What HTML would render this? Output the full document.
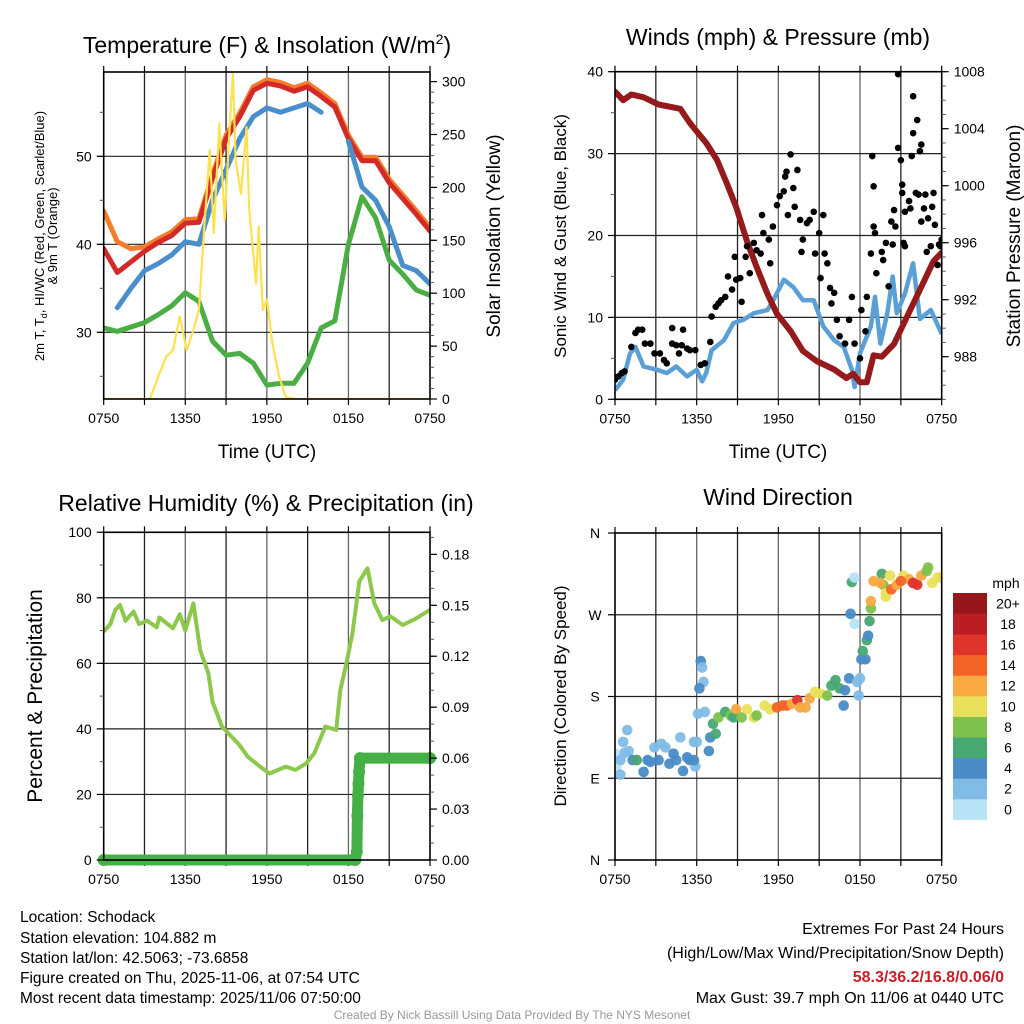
<!DOCTYPE html>
<html><head><meta charset="utf-8"><title>Mesonet Meteogram</title>
<style>
html,body{margin:0;padding:0;background:#fff;}
svg{display:block;font-family:"Liberation Sans",Arial,sans-serif;}
</style></head>
<body>
<svg id="chart" width="1024" height="1024" viewBox="0 0 1024 1024" xmlns="http://www.w3.org/2000/svg">
<rect x="0" y="0" width="1024" height="1024" fill="#fff"/>
<!-- Titles -->
<text x="267" y="53" font-size="23" text-anchor="middle">Temperature (F) &amp; Insolation (W/m<tspan font-size="14" dy="-9">2</tspan><tspan dy="9">)</tspan></text>
<text x="778" y="45" font-size="23" text-anchor="middle">Winds (mph) &amp; Pressure (mb)</text>
<text x="266" y="511" font-size="23" text-anchor="middle">Relative Humidity (%) &amp; Precipitation (in)</text>
<text x="778" y="505" font-size="23" text-anchor="middle">Wind Direction</text>
<!-- axis titles -->
<text x="267" y="458" font-size="19" text-anchor="middle">Time (UTC)</text>
<text x="778" y="458" font-size="19" text-anchor="middle">Time (UTC)</text>
<text transform="translate(44,236) rotate(-90)" font-size="13" text-anchor="middle">2m T, T<tspan font-size="9" dy="3">d</tspan><tspan dy="-3">, HI/WC (Red, Green, Scarlet/Blue)</tspan></text>
<text transform="translate(57,236) rotate(-90)" font-size="13" text-anchor="middle">&amp; 9m T (Orange)</text>
<text transform="translate(500,236) rotate(-90)" font-size="19" text-anchor="middle">Solar Insolation (Yellow)</text>
<text transform="translate(566,236) rotate(-90)" font-size="17" text-anchor="middle">Sonic Wind &amp; Gust (Blue, Black)</text>
<text transform="translate(1020,236) rotate(-90)" font-size="19" text-anchor="middle">Station Pressure (Maroon)</text>
<text transform="translate(42,696) rotate(-90)" font-size="21" text-anchor="middle">Percent &amp; Precipitation</text>
<text transform="translate(566,696) rotate(-90)" font-size="17" text-anchor="middle">Direction (Colored By Speed)</text>
<!-- footer -->
<g font-size="15.5">
<text x="20" y="922">Location: Schodack</text>
<text x="20" y="943">Station elevation: 104.882 m</text>
<text x="20" y="963">Station lat/lon: 42.5063; -73.6858</text>
<text x="20" y="983">Figure created on Thu, 2025-11-06, at 07:54 UTC</text>
<text x="20" y="1003">Most recent data timestamp: 2025/11/06 07:50:00</text>
</g>
<g font-size="16" text-anchor="end">
<text x="1004" y="934">Extremes For Past 24 Hours</text>
<text x="1004" y="958">(High/Low/Max Wind/Precipitation/Snow Depth)</text>
<text x="1004" y="982" fill="#c8202a" font-weight="bold">58.3/36.2/16.8/0.06/0</text>
<text x="1004" y="1003">Max Gust: 39.7 mph On 11/06 at 0440 UTC</text>
</g>
<text x="512" y="1019" font-size="12" fill="#999" text-anchor="middle">Created By Nick Bassill Using Data Provided By The NYS Mesonet</text>
</svg>
<script>
// ---------- DATA ----------
const xTickLabels = ["0750","1350","1950","0150","0750"];
const xTickHours = [0,6,12,18,24];
// Panel 1: temperatures (hourly, hours since 0750 UTC)
const tempHours = [0,1,2,3,4,5,6,7,8,9,10,11,12,13,14,15,16,17,18,19,20,21,22,23,24];
const temp2m = [39.5,36.8,38,39.2,40.2,41,42.4,42.5,47.5,52,54.5,57.5,58.3,58,57.4,57.9,56.8,55.6,52,49.5,49.5,47,45.2,43.4,41.5];
const temp9m = [43.8,40.3,39.5,39.7,40.6,41.4,42.8,42.9,47.9,52.4,54.9,57.9,58.7,58.4,57.8,58.3,57.2,56,52.4,49.9,49.9,47.4,45.6,43.8,41.9];
const heatIndexWC = [null,32.8,35,37,37.8,38.8,40.3,40,45,48.5,52,54.5,55.5,55,55.5,56,55,null,51.7,46.5,45,42,37.6,37,35.5];
const dewPoint = [30.5,30.1,30.6,31.1,32,33,34.5,33.5,29,27.4,27.6,26.5,24,24.2,24.2,26.5,30.5,31.3,40,45.4,43,38.2,36.6,34.8,34.2];
const solarHours = [0,3.4,4.1,4.6,5.1,5.6,6.1,6.6,7.0,7.4,7.8,8.1,8.5,8.9,9.2,9.5,9.7,10.1,10.5,10.7,11.2,11.4,11.7,12.0,12.4,12.9,13.4,14,24];
const solarValues = [0,0,24,40,46,78,46,65,84,163,235,157,260,169,242,308,226,194,257,179,109,163,84,94,53,21,2,0,0];
const tempTicks = [30,40,50];
const solarTicks = [0,50,100,150,200,250,300];
// Panel 2: wind & pressure
const pressHours = [0,0.6,1.2,2.1,3.2,4.8,5.5,6.1,6.7,7.5,8.2,8.9,9.7,10.4,11.2,11.9,12.9,13.8,14.8,16.1,17.0,17.5,18,18.5,19,19.6,20.5,21.2,21.9,22.7,23.4,24];
const pressValues = [1006.6,1006,1006.4,1006.2,1005.7,1005.4,1004.4,1003.7,1003,1001.8,1000.2,998.5,996.1,994.3,992.4,991,989.8,988.4,987.7,987.1,986.5,986.8,986.2,986.2,988.1,988.0,988.9,990.3,991.7,993.3,994.7,995.3];
const windHours = [0,0.6,1.1,1.5,2.1,3.1,3.8,4.5,5.3,6,6.4,6.7,7.1,8,8.7,9.4,10.2,11.2,11.6,12.4,13.1,13.8,14.6,15.3,16.1,16.8,17.4,17.6,18,18.8,19.1,19.5,20,20.4,20.7,21.3,21.9,22.4,23.2,24];
const windValues = [1.1,2.4,5.6,6.4,4,3.6,3.2,4,2.8,3.6,2.2,3.2,6,7.2,9.3,9.7,10.5,10.9,12,14.6,13.7,12.1,12.1,8.9,7.2,6.4,3.6,1.5,5.6,8.9,12.5,6.8,10.5,15,10.5,12.9,16.6,9.8,10.9,8];
const gustHours = [0,0.25,0.5,0.7,1.2,1.5,1.7,2.0,2.2,2.6,2.9,3.3,3.6,3.8,4.2,4.2,4.5,4.7,4.9,5.0,5.3,5.5,5.9,6.3,6.6,7.0,7.1,7.4,7.6,7.8,8.1,8.3,8.6,8.8,8.9,9.2,9.3,9.6,9.7,9.9,10.2,10.4,10.7,10.9,10.8,11.3,11.4,11.6,11.9,12.1,12.4,12.5,12.6,12.7,12.9,13.1,13.2,13.4,13.6,13.7,13.8,14.1,14.3,14.6,14.7,15.0,15.1,15.3,15.4,15.6,15.8,15.9,16.1,16.3,16.5,16.9,17.2,17.4,17.6,18.0,18.1,18.4,18.5,18.8,18.9,19.0,19.0,19.1,19.2,19.6,19.7,19.9,20.1,20.3,20.4,20.5,20.6,20.8,20.8,21.0,21.1,21.1,21.2,21.3,21.3,21.6,21.7,21.8,21.9,21.9,22.1,22.2,22.3,22.4,22.5,22.5,22.7,22.8,22.9,23.0,23.2,23.3,23.4,23.5,23.7,23.8,23.9,24.0];
const gustValues = [2.4,2.8,3.2,3.4,6.4,8.1,8.5,8.5,6.8,6.8,5.6,5.6,4.8,4.4,6.8,8.7,6.6,5.6,6.6,8.5,6.2,6.0,6.0,4.2,4.4,7.0,10.1,11.3,11.7,12.1,12.5,15.0,13.4,17.4,14.6,14.8,11.9,17.4,18.7,15.4,19.1,18.2,17.8,20.3,22.5,19.5,16.6,21.1,23.7,24.8,25.4,27.2,27.8,22.5,29.9,25.8,23.5,28.0,21.9,18.0,19.5,21.5,21.9,22.9,17.8,20.3,14.8,22.5,17.8,16.6,13.6,11.7,13.0,9.7,7.7,6.8,9.7,12.5,6.8,5.0,10.9,8.3,12.5,17.8,29.7,26.0,21.1,20.3,15.4,18.0,17.0,19.1,13.8,21.7,18.9,23.1,21.1,30.7,39.7,29.2,26.2,25.2,19.1,22.9,18.7,24.2,23.3,29.7,32.5,37.0,25.2,34.1,25.0,30.3,31.1,21.7,23.3,25.0,18.0,22.1,18.7,23.5,25.2,21.3,16.4,18.9,18.7,19.5];
const windTicks = [0,10,20,30,40];
const pressTicks = [988,992,996,1000,1004,1008];
// Panel 3: RH & precip
const rhHours = [0,0.5,0.85,1.2,1.6,2.2,2.6,3.2,3.9,4.1,5.1,5.6,6.0,6.6,7.1,7.7,8.0,8.7,9.3,10.0,10.6,11.5,12.2,13.4,14.1,14.9,15.5,16.3,17.1,17.4,17.8,18.3,18.8,19.4,19.9,20.5,21.1,22,22.9,24];
const rhValues = [69.7,72,76.3,77.8,73,75.8,72,73,71,74,70.7,75,70,78.3,64,57,48.3,40.7,38.1,35,31.5,28.5,26.4,28.5,27.5,29.5,32.6,40.7,39.7,51.9,59,69.2,85,89,78.3,73.2,74.3,71.7,73.5,76.3];
const precipHours = [0,18.5,18.62,18.66,18.7,18.74,18.78,18.85,24];
const precipValues = [0,0,0.005,0.026,0.038,0.045,0.052,0.06,0.06];
const rhTicks = [0,20,40,60,80,100];
const precipTicks = ["0.00","0.03","0.06","0.09","0.12","0.15","0.18"];
// Panel 4: wind direction
const dirHours = [0,0.1,0.4,0.4,0.6,0.9,1.0,0.7,1.3,1.6,2.1,2.4,2.6,2.9,3.2,3.4,3.7,4.0,4.3,4.5,4.8,5.0,5.3,5.5,5.8,5.9,6.0,5.8,6.3,6.4,6.5,6.2,6.6,6.1,6.9,7.0,7.2,7.4,7.6,8.1,8.5,8.7,8.9,9.3,9.7,10.2,10.4,11.0,11.4,11.9,12.3,12.6,13.0,13.4,13.6,14.0,14.3,14.7,15.1,15.6,15.9,16.2,16.5,16.9,16.8,17.2,17.8,17.9,18.0,18.1,18.4,18.2,18.5,18.6,18.7,18.8,18.8,17.6,17.3,17.4,17.6,19.0,19.6,19.7,19.9,19.9,20.2,20.3,20.7,21.2,21.6,21.9,22.2,22.5,22.9,23.0,23.3,23.7,24.0,19.5,21.0];
const dirValues = [117,103,94,110,130,143,120,118,110,110,97,110,108,124,110,128,124,106,117,110,135,98,113,110,130,103,130,110,219,212,196,189,163,161,120,135,150,139,157,163,159,157,166,157,166,157,159,170,166,168,170,170,172,176,168,168,178,185,183,181,192,198,189,187,170,200,196,181,200,221,221,230,242,247,263,277,285,260,271,306,311,307,315,303,294,290,313,298,303,313,309,305,303,313,318,322,305,311,311,305,307];
const dirSpeeds = [1,1,3,3,3,3,3,3,5,7,5,5,5,3,5,3,3,5,5,5,3,5,5,5,3,3,3,5,5,3,3,5,3,3,5,5,6,6,8,6,8,6,12,8,10,10,8,10,10,14,14,14,12,16,12,12,12,10,10,8,6,6,6,4,4,4,2,2,2,4,4,6,6,4,6,8,12,1,4,6,1,12,6,8,10,10,10,14,12,10,12,16,16,12,8,8,10,10,10,12,14];
const speedBinLabels = ["0","2","4","6","8","10","12","14","16","18","20+"];
const speedColors = ["#b8e3f7","#80bce6","#4a8cc6","#48a872","#7ec24d","#e8e05a","#f8a941","#f26426","#e0332b","#bc1c23","#961619"];
const dirTickLabels = ["N","E","S","W","N"];

// ---------- HELPERS ----------
const NS = 'http://www.w3.org/2000/svg';
const svg = document.getElementById('chart');
function mk(tag, attrs, parent){
  const e = document.createElementNS(NS, tag);
  for (const k in attrs) e.setAttribute(k, attrs[k]);
  (parent || svg).appendChild(e);
  return e;
}
function panel(x0,x1,y0,y1){ return {x0,x1,y0,y1, x:(h)=>x0+(x1-x0)*h/24}; }
const P1 = panel(103.7,430,72,399);
const P2 = panel(615,941.7,71.7,399.3);
const P3 = panel(103.7,430,532.3,860);
const P4 = panel(615,941.7,533,860);
const yTemp = v => 244.3-(v-40)*8.8;
const ySolar = v => 399-v*1.058;
const yWind = v => 399.3-v*8.19;
const yPress = v => 71.7+(1008-v)*14.25;
const yRH = v => 860-v*3.2777;
const yPrecip = v => 860-v*1698;
const yDir = v => 860-v*0.9083;

// clip paths
const defs = mk('defs',{});
[P1,P2,P3,P4].forEach((p,i)=>{
  const c = mk('clipPath',{id:'clip'+i},defs);
  mk('rect',{x:p.x0,y:p.y0,width:p.x1-p.x0,height:p.y1-p.y0},c);
});

function gridAndFrame(p, name, hLines){
  const g = mk('g',{});
  
  
  for (let h=3; h<24; h+=3){
    const l = mk('line',{x1:p.x(h),x2:p.x(h),y1:p.y0,y2:p.y1,stroke:(h%6===0)?'#666':'#222','stroke-width':1.3},g);
    
    
  }
  hLines.forEach(y=>{
    const l = mk('line',{x1:p.x0,x2:p.x1,y1:y,y2:y,stroke:'#222','stroke-width':1.2},g);
    
    
  });
  // top/bottom x ticks
  for (let h=0; h<=24; h+=3){
    mk('line',{x1:p.x(h),x2:p.x(h),y1:p.y1,y2:p.y1+6,stroke:'#000','stroke-width':1.2},g);
    mk('line',{x1:p.x(h),x2:p.x(h),y1:p.y0,y2:p.y0-6,stroke:'#000','stroke-width':1.2},g);
  }
  xTickHours.forEach((h,i)=>{
    const t = mk('text',{x:p.x(h),y:p.y1+24,'font-size':14,'text-anchor':'middle'},g);
    
    
    t.textContent = xTickLabels[i];
  });
  return g;
}
function frame(p, name){
  const r = mk('rect',{x:p.x0,y:p.y0,width:p.x1-p.x0,height:p.y1-p.y0,fill:'none',stroke:'#000','stroke-width':1.6});
  
  
}
function yAxis(p, side, scale, ticks, labels, minorStep, lo, hi, name){
  const g = mk('g',{});
  
  
  const x = side==='left'? p.x0 : p.x1;
  const dir = side==='left'? -1 : 1;
  for (let v=lo; v<=hi+1e-9; v+=minorStep){
    const y = scale(v);
    if (y < p.y0-0.5 || y > p.y1+0.5) continue;
    mk('line',{x1:x,x2:x+dir*4,y1:y,y2:y,stroke:'#555','stroke-width':1},g);
  }
  ticks.forEach((v,i)=>{
    const y = scale(v);
    mk('line',{x1:x,x2:x+dir*7,y1:y,y2:y,stroke:'#000','stroke-width':1.2},g);
    const t = mk('text',{x:x+dir*12,y:y+5,'font-size':14,'text-anchor':side==='left'?'end':'start'},g);
    
    
    t.textContent = labels[i];
  });
}
function linePath(xs, ys, p, xfn, yfn){
  let d='', pen=false;
  for (let i=0;i<xs.length;i++){
    if (ys[i]===null){ pen=false; continue; }
    d += (pen?'L':'M') + p.x(xs[i]).toFixed(1)+','+yfn(ys[i]).toFixed(1);
    pen=true;
  }
  return d;
}

// ---------- PANEL 1 ----------
gridAndFrame(P1,'temperature',tempTicks.map(yTemp));
const g1 = mk('g',{'clip-path':'url(#clip0)'});


const s9 = mk('path',{d:linePath(tempHours,temp9m,P1,null,yTemp),fill:'none',stroke:'#f47d2a','stroke-width':5,'stroke-linejoin':'round','stroke-linecap':'round'},g1);


const s2 = mk('path',{d:linePath(tempHours,temp2m,P1,null,yTemp),fill:'none',stroke:'#d32a28','stroke-width':5,'stroke-linejoin':'round','stroke-linecap':'round'},g1);


const sh = mk('path',{d:linePath(tempHours,heatIndexWC,P1,null,yTemp),fill:'none',stroke:'#4a8fcb','stroke-width':5,'stroke-linejoin':'round','stroke-linecap':'round'},g1);


const sd = mk('path',{d:linePath(tempHours,dewPoint,P1,null,yTemp),fill:'none',stroke:'#4aae44','stroke-width':5,'stroke-linejoin':'round','stroke-linecap':'round'},g1);


const ss = mk('path',{d:linePath(solarHours,solarValues,P1,null,ySolar),fill:'none',stroke:'#fde14f','stroke-width':2.2,'stroke-linejoin':'round'},g1);


frame(P1,'temperature');
yAxis(P1,'left',yTemp,tempTicks,tempTicks.map(String),5,25,55,'temp-y-axis');
yAxis(P1,'right',ySolar,solarTicks,solarTicks.map(String),10,0,310,'solar-y-axis');

// ---------- PANEL 2 ----------
gridAndFrame(P2,'wind',[10,20,30].map(yWind));
const g2 = mk('g',{'clip-path':'url(#clip1)'});


const sw = mk('path',{d:linePath(windHours,windValues,P2,null,yWind),fill:'none',stroke:'#5a9fd6','stroke-width':4.5,'stroke-linejoin':'round'},g2);


const sp = mk('path',{d:linePath(pressHours,pressValues,P2,null,yPress),fill:'none',stroke:'#951a1b','stroke-width':6,'stroke-linejoin':'round','stroke-linecap':'round'},g2);


gustHours.forEach((h,i)=>{
  const c = mk('circle',{cx:P2.x(h),cy:yWind(gustValues[i]),r:3.3,fill:'#000'},g2);
  
  
});
frame(P2,'wind');
yAxis(P2,'left',yWind,windTicks,windTicks.map(String),5,0,40,'wind-y-axis');
yAxis(P2,'right',yPress,pressTicks,pressTicks.map(String),1,985,1008,'pressure-y-axis');

// ---------- PANEL 3 ----------
gridAndFrame(P3,'humidity',[20,40,60,80].map(yRH));
const g3 = mk('g',{'clip-path':'url(#clip2)'});


const sr = mk('path',{d:linePath(rhHours,rhValues,P3,null,yRH),fill:'none',stroke:'#8cc84b','stroke-width':4,'stroke-linejoin':'round'},g3);


const g3b = mk('g',{});


const sq = mk('path',{d:linePath(precipHours,precipValues,P3,null,yPrecip),fill:'none',stroke:'#45b045','stroke-width':11,'stroke-linejoin':'round','stroke-linecap':'round'},g3b);


precipHours.forEach((h,i)=>{
  const c = mk('circle',{cx:P3.x(h),cy:yPrecip(precipValues[i]),r:6,fill:'#45b045'},g3b);
  
  
});
frame(P3,'humidity');
yAxis(P3,'left',yRH,rhTicks,rhTicks.map(String),10,0,100,'rh-y-axis');
yAxis(P3,'right',yPrecip,precipTicks.map(Number),precipTicks,0.01,0,0.19,'precip-y-axis');

// ---------- PANEL 4 ----------
gridAndFrame(P4,'direction',[90,180,270].map(yDir));
const g4 = mk('g',{'clip-path':'url(#clip3)'});


dirHours.forEach((h,i)=>{
  const bin = Math.min(10, Math.floor(dirSpeeds[i]/2));
  const c = mk('circle',{cx:P4.x(h),cy:yDir(dirValues[i]),r:5.3,fill:speedColors[bin],'fill-opacity':0.95},g4);
  
  
});
frame(P4,'direction');
(function(){
  const g = mk('g',{});
  
  
  dirTickLabels.forEach((lab,i)=>{
    const y = yDir(i*90);
    mk('line',{x1:P4.x0,x2:P4.x0-7,y1:y,y2:y,stroke:'#000','stroke-width':1.2},g);
    const t = mk('text',{x:P4.x0-20,y:y+5,'font-size':14,'text-anchor':'middle'},g);
    
    
    t.textContent = lab;
  });
})();
// colorbar
(function(){
  const g = mk('g',{});
  
  
  const top = 593, h = 20.6;
  const unit = mk('text',{x:1006,y:588,'font-size':14,'text-anchor':'middle'},g);
  
  
  unit.textContent = 'mph';
  speedColors.forEach((c,i)=>{
    const y = top + (10-i)*h;
    const r = mk('rect',{x:953,y:y,width:34,height:h+0.3,fill:c},g);
    
    
    const t = mk('text',{x:1008,y:y+h/2+5,'font-size':14,'text-anchor':'middle'},g);
    
    
    t.textContent = speedBinLabels[i];
  });
})();
</script>
</body></html>
